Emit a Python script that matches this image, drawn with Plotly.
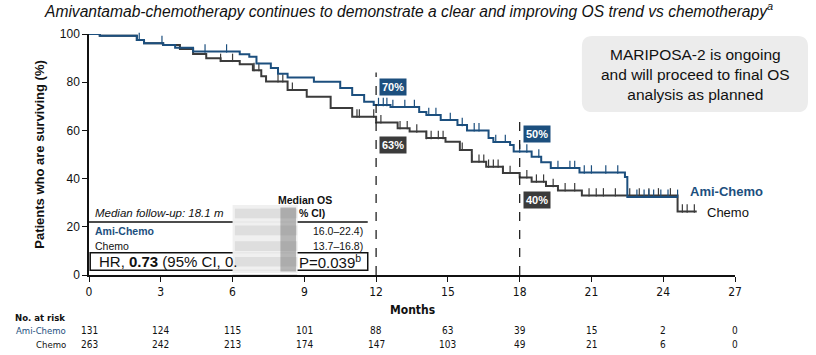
import numpy as np
import plotly.graph_objects as go

# ---- data ----
ami_t = [0, 0.45, 2.0, 2.3, 3.1, 3.6, 4.35, 6.3, 6.7, 7.0, 7.6, 7.9, 8.3, 9.4, 10.5, 11.0, 11.5, 11.9, 12.6, 13.8, 14.1, 14.7, 15.4, 15.8, 16.7, 16.9, 17.6, 17.75, 18.5, 18.9, 19.3, 20.5, 22.4, 22.5]
ami_s = [100, 99.3, 97.5, 96.2, 95.4, 94.3, 92.7, 91.6, 90.6, 87.8, 85.9, 83.5, 81.9, 80.2, 77.6, 74.7, 71.9, 70.5, 69.7, 67.6, 66.4, 64.3, 62.2, 60.0, 56.8, 55.2, 53.9, 51.2, 49.1, 46.8, 44.4, 42.5, 40.7, 32.4]
ami_end = 24.6

chemo_t = [0, 0.45, 2.0, 2.3, 3.1, 3.8, 4.35, 4.9, 5.5, 6.3, 6.85, 7.2, 7.4, 8.3, 9.1, 10.1, 11.0, 12.0, 12.9, 13.4, 14.1, 14.9, 15.5, 16.0, 16.6, 17.3, 18.0, 18.5, 19.1, 19.6, 20.6, 24.6]
chemo_s = [100, 99.3, 97.5, 96.2, 95.4, 93.8, 91.7, 89.9, 88.8, 87.4, 85.0, 82.5, 80.3, 76.8, 74.0, 69.3, 65.7, 63.3, 60.9, 59.5, 56.8, 55.3, 51.9, 47.0, 44.9, 42.3, 40.5, 38.7, 36.9, 35.1, 33.0, 26.3]
chemo_end = 25.4

ami_cens = [0.4, 1.6, 1.9, 2.1, 3.05, 4.85, 5.75, 12.1, 12.3, 12.45, 12.7, 13.2, 13.6, 14.2, 14.5, 15.1, 15.6, 16.1, 16.3, 17.0, 17.4, 18.0, 18.3, 18.8, 19.6, 20.1, 20.3, 20.7, 21.0, 21.6, 22.1, 22.9, 23.2, 23.4, 23.6, 23.9, 24.2, 24.6]
chemo_cens = [5.5, 6.0, 6.9, 7.1, 7.9, 8.1, 8.5, 11.2, 11.3, 11.9, 12.2, 13.0, 13.3, 13.7, 14.1, 14.3, 14.6, 14.8, 15.6, 16.0, 16.3, 16.5, 16.7, 16.9, 17.1, 17.3, 17.6, 18.3, 18.7, 19.0, 19.4, 19.9, 20.3, 20.9, 21.2, 21.5, 22.0, 22.6, 23.0, 23.4, 23.8, 24.3, 24.8, 25.0, 25.3]

x_ticks = [0, 3, 6, 9, 12, 15, 18, 21, 24, 27]
y_ticks = [0, 20, 40, 60, 80, 100]
risk_ami = [131, 124, 115, 101, 88, 63, 39, 15, 2, 0]
risk_chemo = [263, 242, 213, 174, 147, 103, 49, 21, 6, 0]

landmarks = [12, 18]
lm_ami = ["70%", "50%"]
lm_chemo = ["63%", "40%"]

BLUE = "#1c4f7e"
DARK = "#3b3b3b"
NARROW = "DejaVu Sans Condensed, Liberation Sans Narrow, Liberation Sans, sans-serif"
SANS = "Liberation Sans, Arial, sans-serif"


def step_val(ts, ss, x):
    i = np.searchsorted(np.array(ts), np.array(x), side="right") - 1
    return np.array(ss)[i]


fig = go.Figure()

# chemo curve
fig.add_trace(go.Scatter(x=chemo_t + [chemo_end], y=chemo_s + [chemo_s[-1]], mode="lines",
                         line=dict(color=DARK, width=2, shape="hv"), showlegend=False, hoverinfo="skip"))
fig.add_trace(go.Scatter(x=chemo_cens, y=step_val(chemo_t, chemo_s, chemo_cens) + 1.3, mode="markers",
                         marker=dict(symbol="line-ns", size=6, line=dict(color=DARK, width=1.2)),
                         showlegend=False, hoverinfo="skip"))
# ami curve
fig.add_trace(go.Scatter(x=ami_t + [ami_end], y=ami_s + [ami_s[-1]], mode="lines",
                         line=dict(color=BLUE, width=2, shape="hv"), showlegend=False, hoverinfo="skip"))
fig.add_trace(go.Scatter(x=ami_cens, y=step_val(ami_t, ami_s, ami_cens) + 1.3, mode="markers",
                         marker=dict(symbol="line-ns", size=6, line=dict(color=BLUE, width=1.2)),
                         showlegend=False, hoverinfo="skip"))

shapes = []
annots = []
# landmark dashed lines + labels
for x, la, lc, top in zip(landmarks, lm_ami, lm_chemo, [84, 66.5]):
    shapes.append(dict(type="line", x0=x, x1=x, y0=0, y1=top, xref="x", yref="y",
                       line=dict(color="#222", width=1.3, dash="dash")))
    ya = step_val(ami_t, ami_s, [x])[0]
    yc = step_val(chemo_t, chemo_s, [x])[0]
    annots.append(dict(x=x, y=ya + 7.5, xref="x", yref="y", text="<b>%s</b>" % la, showarrow=False,
                       xanchor="left", xshift=3, bgcolor=BLUE, font=dict(color="white", size=11, family=SANS),
                       borderpad=2))
    annots.append(dict(x=x, y=yc - 9.5, xref="x", yref="y", text="<b>%s</b>" % lc, showarrow=False,
                       xanchor="left", xshift=3, bgcolor=DARK, font=dict(color="white", size=11, family=SANS),
                       borderpad=2))

# curve end labels
annots.append(dict(x=25.05, y=34.8, text="<b>Ami-Chemo</b>", showarrow=False, xanchor="left",
                   font=dict(color=BLUE, size=13, family=SANS)))
annots.append(dict(x=25.75, y=26.1, text="Chemo", showarrow=False, xanchor="left",
                   font=dict(color="#111", size=13, family=SANS)))

# title
annots.append(dict(x=0.495, y=1.0, xref="paper", yref="paper", yshift=12, yanchor="bottom", xanchor="center",
                   text="<i>Amivantamab-chemotherapy continues to demonstrate a clear and improving OS trend vs chemotherapy<sup>a</sup></i>",
                   showarrow=False, font=dict(size=15.6, family=SANS, color="#111")))

# MARIPOSA box (rounded, paper coords)
bx0, bx1, by0, by1, rx, ry = 0.763, 1.113, 0.676, 0.992, 0.016, 0.045
shapes.append(dict(type="path", xref="paper", yref="paper",
                   path=(f"M {bx0+rx},{by1} L {bx1-rx},{by1} Q {bx1},{by1} {bx1},{by1-ry} "
                         f"L {bx1},{by0+ry} Q {bx1},{by0} {bx1-rx},{by0} L {bx0+rx},{by0} "
                         f"Q {bx0},{by0} {bx0},{by0+ry} L {bx0},{by1-ry} Q {bx0},{by1} {bx0+rx},{by1} Z"),
                   fillcolor="#ececec", line=dict(width=0), layer="below"))
annots.append(dict(x=25.33, y=83.4, showarrow=False,
                   text="MARIPOSA-2 is ongoing<br>and will proceed to final OS<br>analysis as planned",
                   font=dict(size=15.5, family=SANS, color="#111")))

# lower-left summary box
shapes.append(dict(type="line", x0=0, x1=11.65, y0=22, y1=22, line=dict(color="#111", width=1.5)))
shapes.append(dict(type="rect", x0=0.05, x1=11.65, y0=2.0, y1=9.2, line=dict(color="#111", width=1.5),
                   fillcolor="white"))
annots.append(dict(x=0.15, y=25.6, text="<i>Median follow-up: 18.1 m</i>", showarrow=False, xanchor="left",
                   font=dict(size=11.5, family=SANS, color="#111")))
annots.append(dict(x=9.03, y=31.0, text="<b>Median OS</b>", showarrow=False, xanchor="center",
                   font=dict(size=10.5, family=SANS, color="#111")))
annots.append(dict(x=8.7, y=25.8, text="<b>% CI)</b>", showarrow=False, xanchor="left",
                   font=dict(size=10.5, family=SANS, color="#111")))
annots.append(dict(x=0.15, y=18.4, text="<b>Ami-Chemo</b>", showarrow=False, xanchor="left",
                   font=dict(size=10.5, family=SANS, color=BLUE)))
annots.append(dict(x=0.15, y=12.0, text="Chemo", showarrow=False, xanchor="left",
                   font=dict(size=10.5, family=SANS, color="#111")))
annots.append(dict(x=11.55, y=18.4, text="16.0–22.4)", showarrow=False, xanchor="right",
                   font=dict(size=10.5, family=SANS, color="#111")))
annots.append(dict(x=11.55, y=12.0, text="13.7–16.8)", showarrow=False, xanchor="right",
                   font=dict(size=10.5, family=SANS, color="#111")))
annots.append(dict(x=0.35, y=5.6, text="HR, <b>0.73</b> (95% CI, 0.", showarrow=False, xanchor="left",
                   font=dict(size=15, family=SANS, color="#111")))
annots.append(dict(x=11.45, y=5.6, text="P=0.039<sup>b</sup>", showarrow=False, xanchor="right",
                   font=dict(size=15, family=SANS, color="#111")))
# blurred (redacted) region
shapes.append(dict(type="rect", x0=6.0, x1=8.72, y0=0.8, y1=29, line=dict(width=0),
                   fillcolor="rgba(240,240,240,0.97)"))
for yb0, yb1 in [(16.5, 20.5), (10.0, 14.0), (3.5, 7.5), (23.5, 27.5)]:
    shapes.append(dict(type="rect", x0=6.1, x1=8.7, y0=yb0, y1=yb1, line=dict(width=0),
                       fillcolor="rgba(200,200,200,0.45)"))
shapes.append(dict(type="rect", x0=8.0, x1=8.65, y0=1.5, y1=28, line=dict(width=0),
                   fillcolor="rgba(110,110,110,0.45)"))
shapes.append(dict(type="rect", x0=6.0, x1=8.7, y0=-2.5, y1=0.4, line=dict(width=0),
                   fillcolor="rgba(205,205,205,0.6)"))

# axis titles
annots.append(dict(x=13.5, y=-0.145, yref="paper", yanchor="middle", text="<b>Months</b>", showarrow=False,
                   font=dict(size=12, family=NARROW, color="#111")))
annots.append(dict(x=-0.077, y=0.5, xref="paper", yref="paper", xanchor="center", yanchor="middle",
                   text="<b>Patients who are surviving (%)</b>",
                   textangle=-90, showarrow=False, font=dict(size=13, family=SANS, color="#111")))

# number at risk
annots.append(dict(x=-0.034, xref="paper", y=-0.178, yref="paper", yanchor="middle",
                   text="<b>No. at risk</b>", showarrow=False,
                   xanchor="right", font=dict(size=9.5, family=NARROW, color="#111")))
annots.append(dict(x=-0.033, xref="paper", y=-0.232, yref="paper", yanchor="middle",
                   text="Ami-Chemo", showarrow=False,
                   xanchor="right", font=dict(size=9.5, family=NARROW, color=BLUE)))
annots.append(dict(x=-0.033, xref="paper", y=-0.29, yref="paper", yanchor="middle",
                   text="Chemo", showarrow=False,
                   xanchor="right", font=dict(size=9.5, family=NARROW, color="#111")))
for x, a, c in zip(x_ticks, risk_ami, risk_chemo):
    annots.append(dict(x=x, y=-0.232, yref="paper", yanchor="middle", text=str(a), showarrow=False,
                       font=dict(size=10, family=NARROW, color="#111")))
    annots.append(dict(x=x, y=-0.29, yref="paper", yanchor="middle", text=str(c), showarrow=False,
                       font=dict(size=10, family=NARROW, color="#111")))

fig.update_layout(
    width=816, height=355,
    margin=dict(l=89, r=81, t=34, b=80),
    plot_bgcolor="white", paper_bgcolor="white",
    shapes=shapes, annotations=annots,
    xaxis=dict(range=[0, 27], tickvals=x_ticks, ticks="outside", ticklen=5, tickcolor="#111",
               showline=True, linecolor="#111", linewidth=1.5, showgrid=False, zeroline=False,
               tickfont=dict(size=12, family=NARROW, color="#111")),
    yaxis=dict(range=[0, 100], tickvals=y_ticks, ticks="outside", ticklen=5, tickcolor="#111",
               showline=True, linecolor="#111", linewidth=1.5, showgrid=False, zeroline=False,
               tickfont=dict(size=12, family=SANS, color="#111")),
)
for tr in fig.data:
    tr.cliponaxis = False

fig.write_html("out.html", config={"displayModeBar": False},
               post_script="document.body.style.margin='0';document.body.style.overflow='hidden';")
